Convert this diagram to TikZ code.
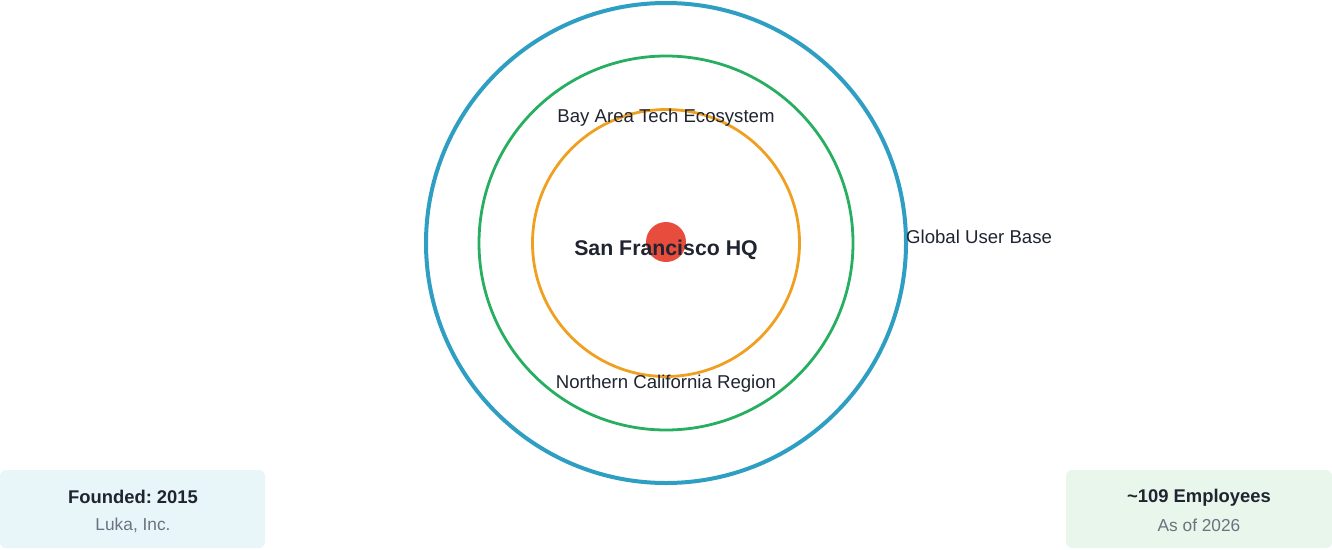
\documentclass[tikz,border=0pt]{standalone}
\usepackage{fontspec}
\setmainfont{Liberation Sans}
\frenchspacing
\definecolor{ringblue}{HTML}{2E9FC2}
\definecolor{ringgreen}{HTML}{27AE60}
\definecolor{ringorange}{HTML}{F0A020}
\definecolor{hqred}{HTML}{E74C3C}
\definecolor{inkdark}{HTML}{1F2430}
\definecolor{inkgray}{HTML}{6B7280}
\definecolor{boxblue}{HTML}{E8F5F9}
\definecolor{boxgreen}{HTML}{E8F6EC}
\tikzset{
  ringlabel/.style={text=inkdark,font=\fontsize{18.6}{22}\selectfont},
  boxtitle/.style={text=inkdark,font=\fontsize{18.4}{21}\selectfont\bfseries},
  boxsub/.style={text=inkgray,font=\fontsize{17.3}{20}\selectfont}
}
\begin{document}
\begin{tikzpicture}[x=1pt,y=-1pt]
  \useasboundingbox (0,0) rectangle (1332,549);
  \draw[ringblue,line width=4] (666,243) circle (240);
  \draw[ringgreen,line width=2.8] (666,243) circle (187);
   \draw[ringorange,line width=2.8] (666,243) circle (133.5);
  \fill[hqred] (666,242) circle (20);
    \node[text=inkdark,font=\fontsize{21.3}{24}\selectfont\bfseries] (hq) at (666,250) {San Francisco HQ};
  \node[ringlabel] (bay) at (666,118) {Bay Area Tech Ecosystem};
   \node[ringlabel] (norcal) at (666,384) {Northern California Region};
   \node[ringlabel,anchor=west,inner sep=0] (global) at (906,237) {Global User Base};
  % info boxes
  \fill[boxblue,rounded corners=6] (0,470) rectangle (265,548);
   \fill[boxgreen,rounded corners=6] (1066,470) rectangle (1332,548);
  \node[boxtitle] (founded) at (133,497) {Founded: 2015};
   \node[boxsub] (luka) at (133,525) {Luka, Inc.};
  \node[boxtitle] (staff) at (1199,498) {\char"7E 109 Employees};
   \node[boxsub] (asof) at (1199,525) {As of 2026};
  \end{tikzpicture}
\end{document}
